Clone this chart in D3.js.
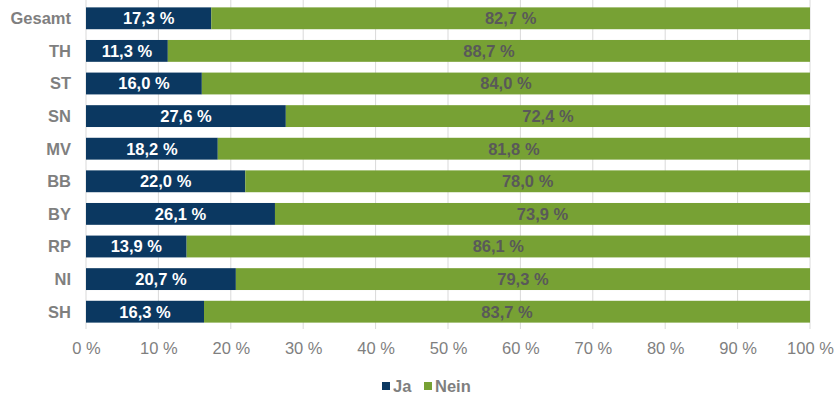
<!DOCTYPE html>
<html>
<head>
<meta charset="utf-8">
<script src="https://cdn.jsdelivr.net/npm/d3@7/dist/d3.min.js"></script>
<style>
  html, body { margin: 0; padding: 0; background: #fff; }
  svg { display: block; }
  svg text { font-family: Arial, "Liberation Sans", Helvetica, sans-serif; }
</style>
</head>
<body>
<svg id="chart" width="840" height="397"></svg>
<script>
// Share of answers per region (percent)
const categories = ["Gesamt", "TH", "ST", "SN", "MV", "BB", "BY", "RP", "NI", "SH"];
const jaValues   = [17.3, 11.3, 16.0, 27.6, 18.2, 22.0, 26.1, 13.9, 20.7, 16.3];
const neinValues = [82.7, 88.7, 84.0, 72.4, 81.8, 78.0, 73.9, 86.1, 79.3, 83.7];
const seriesNames = ["Ja", "Nein"];
const tickValues = [0, 10, 20, 30, 40, 50, 60, 70, 80, 90, 100];

const colors = { Ja: "#0b3861", Nein: "#77a134" };
const labelColors = { Ja: "#ffffff", Nein: "#595959" };

const svg = d3.select("#chart");
const margin = { left: 86, right: 30, top: 2, bottom: 69 };
const width = 840, height = 397;

const x = d3.scaleLinear().domain([0, 100]).range([margin.left, width - margin.right]);
const y = d3.scaleBand().domain(categories).range([margin.top, height - margin.bottom]).paddingInner(0.33).paddingOuter(0.165);

const rows = categories.map((c, i) => ({ cat: c, Ja: jaValues[i], Nein: neinValues[i] }));
const stacked = d3.stack().keys(seriesNames)(rows);

// gridlines
svg.append("g")
  .selectAll("line")
  .data(tickValues)
  .join("line")
  .attr("x1", d => x(d)).attr("x2", d => x(d))
  .attr("y1", margin.top - 2).attr("y2", height - margin.bottom + 1)
  .attr("stroke", "#d9d9d9").attr("stroke-width", 1);

// bars
const layers = svg.append("g")
  .selectAll("g")
  .data(stacked)
  .join("g")
  .attr("fill", d => colors[d.key]);

layers.selectAll("rect")
  .data(d => d.map(v => ({ key: d.key, v })))
  .join("rect")
  .attr("x", d => x(d.v[0]))
  .attr("width", d => x(d.v[1]) - x(d.v[0]))
  .attr("y", d => y(d.v.data.cat))
  .attr("height", y.bandwidth());

// value labels
const fmt = v => v.toFixed(1).replace(".", ",") + " %";
layers.selectAll("text")
  .data(d => d.map(v => ({ key: d.key, v })))
  .join("text")
  .attr("x", d => (x(d.v[0]) + x(d.v[1])) / 2)
  .attr("y", d => y(d.v.data.cat) + y.bandwidth() / 2)
  .attr("dy", "0.36em")
  .attr("text-anchor", "middle")
  .attr("fill", d => labelColors[d.key])
  .attr("font-size", 16.5)
  .attr("font-weight", "bold")
  .text(d => fmt(d.v[1] - d.v[0]));

// category axis
svg.append("g")
  .selectAll("text")
  .data(categories)
  .join("text")
  .attr("x", margin.left - 15)
  .attr("y", d => y(d) + y.bandwidth() / 2)
  .attr("dy", "0.36em")
  .attr("text-anchor", "end")
  .attr("fill", "#7f7f7f")
  .attr("font-size", 16.5)
  .attr("font-weight", "bold")
  .text(d => d);

// value axis
const xAxis = d3.axisBottom(x).tickValues(tickValues).tickFormat(d => d + " %").tickSize(0).tickPadding(14);
const xg = svg.append("g")
  .attr("transform", `translate(0,${height - margin.bottom})`)
  .call(xAxis);
xg.select(".domain").remove();
xg.selectAll("text")
  .attr("fill", "#7f7f7f")
  .attr("font-size", 16.5)
  .attr("font-family", null);

// legend
const legend = svg.append("g").attr("transform", "translate(382,386)");
const legendX = [0, 42];
seriesNames.forEach((s, i) => {
  const g = legend.append("g").attr("transform", `translate(${legendX[i]},0)`);
  g.append("rect").attr("x", 0).attr("y", -4).attr("width", 8).attr("height", 8).attr("fill", colors[s]);
  g.append("text").attr("x", 11).attr("y", 0).attr("dy", "0.36em")
    .attr("fill", "#7f7f7f").attr("font-size", 16.5).attr("font-weight", "bold").text(s);
});
</script>
</body>
</html>
